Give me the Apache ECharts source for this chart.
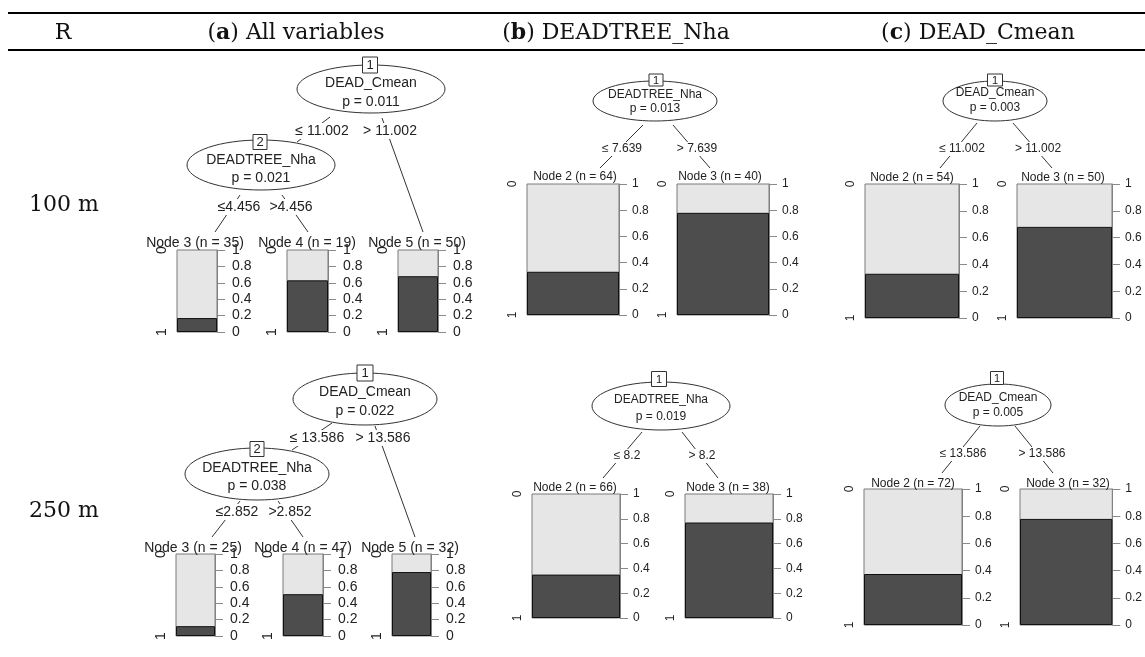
<!DOCTYPE html>
<html><head><meta charset="utf-8">
<script src="https://cdn.jsdelivr.net/npm/echarts@6/dist/echarts.min.js"></script>
<style>html,body{margin:0;padding:0;background:#fff}#c{width:1145px;height:657px}</style>
</head><body><div id="c"></div>
<script>
// ---------- DATA ----------
const headR = 'R';
const colLetters = ['a', 'b', 'c'];
const colTitles = ['All variables', 'DEADTREE_Nha', 'DEAD_Cmean'];
const rowLabels = ['100 m', '250 m'];
const classLevels = ['0', '1'];           // top (light) = 0, bottom (dark) = 1

// (a) All variables, 100 m
const a100Vars = ['DEAD_Cmean', 'DEADTREE_Nha'];
const a100P = ['0.011', '0.021'];
const a100Splits = ['≤ 11.002', '> 11.002', '≤4.456', '>4.456'];
const a100Term = [3, 4, 5];
const a100N = [35, 19, 50];
const a100Share1 = [0.17, 0.63, 0.68];

// (a) All variables, 250 m
const a250Vars = ['DEAD_Cmean', 'DEADTREE_Nha'];
const a250P = ['0.022', '0.038'];
const a250Splits = ['≤ 13.586', '> 13.586', '≤2.852', '>2.852'];
const a250Term = [3, 4, 5];
const a250N = [25, 47, 32];
const a250Share1 = [0.12, 0.51, 0.78];

// (b) DEADTREE_Nha, 100 m
const b100Vars = ['DEADTREE_Nha'];
const b100P = ['0.013'];
const b100Splits = ['≤ 7.639', '> 7.639'];
const b100Term = [2, 3];
const b100N = [64, 40];
const b100Share1 = [0.33, 0.78];

// (c) DEAD_Cmean, 100 m
const c100Vars = ['DEAD_Cmean'];
const c100P = ['0.003'];
const c100Splits = ['≤ 11.002', '> 11.002'];
const c100Term = [2, 3];
const c100N = [54, 50];
const c100Share1 = [0.33, 0.68];

// (b) DEADTREE_Nha, 250 m
const b250Vars = ['DEADTREE_Nha'];
const b250P = ['0.019'];
const b250Splits = ['≤ 8.2', '> 8.2'];
const b250Term = [2, 3];
const b250N = [66, 38];
const b250Share1 = [0.35, 0.77];

// (c) DEAD_Cmean, 250 m
const c250Vars = ['DEAD_Cmean'];
const c250P = ['0.005'];
const c250Splits = ['≤ 13.586', '> 13.586'];
const c250Term = [2, 3];
const c250N = [72, 32];
const c250Share1 = [0.375, 0.78];

// ---------- LAYOUT (tree-diagram geometry, in page units) ----------
const LAYOUT = {
  a100: { font: 14,
    inner: [{ c: [371, 89], r: [74, 24], box: [370, 65, 15, 16], ty: [83, 102] },
            { c: [261, 165], r: [74, 25], box: [260, 142, 14, 15], ty: [160, 178] }],
    edges: [{ p: [330, 117, 297, 142], l: [322, 131] }, { p: [382, 118, 423, 232], l: [390, 131] },
            { p: [240, 195, 215, 232], l: [239, 207] }, { p: [282, 195, 308, 232], l: [291, 207] }],
    term: [{ l: [195, 243], g: [177, 250, 40, 82] }, { l: [307, 243], g: [287, 250, 41, 82] }, { l: [417, 243], g: [398, 250, 40, 82] }] },
  a250: { font: 14,
    inner: [{ c: [365, 399], r: [72, 26], box: [365, 373, 16, 16], ty: [392, 411] },
            { c: [257, 474], r: [72, 26], box: [257, 449, 14, 15], ty: [468, 486] }],
    edges: [{ p: [332, 423, 292, 450], l: [317, 438] }, { p: [375, 426, 415, 537], l: [383, 438] },
            { p: [240, 501, 212, 537], l: [237, 512] }, { p: [278, 501, 303, 537], l: [290, 512] }],
    term: [{ l: [193, 548], g: [176, 554, 39, 82] }, { l: [303, 548], g: [283, 554, 40, 82] }, { l: [410, 548], g: [392, 554, 39, 82] }] },
  b100: { font: 12,
    inner: [{ c: [655, 101], r: [62, 20], box: [656, 80, 14, 12], ty: [95, 109] }],
    edges: [{ p: [643, 125, 600, 168], l: [622, 149] }, { p: [673, 125, 710, 168], l: [697, 149] }],
    term: [{ l: [575, 177], g: [527, 184, 92, 131] }, { l: [720, 177], g: [677, 184, 92, 131] }] },
  c100: { font: 12,
    inner: [{ c: [995, 101], r: [52, 20], box: [995, 80, 15, 12], ty: [93, 108] }],
    edges: [{ p: [977, 123, 940, 168], l: [962, 149] }, { p: [1013, 123, 1052, 168], l: [1038, 149] }],
    term: [{ l: [912, 178], g: [865, 184, 94, 134] }, { l: [1063, 178], g: [1017, 184, 95, 134] }] },
  b250: { font: 12,
    inner: [{ c: [661, 406], r: [69, 24], box: [659, 379, 15, 15], ty: [400, 417] }],
    edges: [{ p: [642, 432, 603, 478], l: [627, 456] }, { p: [682, 432, 718, 478], l: [702, 456] }],
    term: [{ l: [575, 488], g: [532, 494, 88, 124] }, { l: [728, 488], g: [685, 494, 88, 124] }] },
  c250: { font: 12,
    inner: [{ c: [998, 405], r: [53, 21], box: [997, 378, 13, 13], ty: [398, 413] }],
    edges: [{ p: [980, 426, 942, 473], l: [963, 454] }, { p: [1015, 426, 1053, 473], l: [1042, 454] }],
    term: [{ l: [913, 484], g: [864, 489, 98, 136] }, { l: [1068, 484], g: [1020, 489, 96, 136] }] }
};

const panels = [
  { key: 'a100', vars: a100Vars, p: a100P, splits: a100Splits, term: a100Term, n: a100N, share: a100Share1 },
  { key: 'b100', vars: b100Vars, p: b100P, splits: b100Splits, term: b100Term, n: b100N, share: b100Share1 },
  { key: 'c100', vars: c100Vars, p: c100P, splits: c100Splits, term: c100Term, n: c100N, share: c100Share1 },
  { key: 'a250', vars: a250Vars, p: a250P, splits: a250Splits, term: a250Term, n: a250N, share: a250Share1 },
  { key: 'b250', vars: b250Vars, p: b250P, splits: b250Splits, term: b250Term, n: b250N, share: b250Share1 },
  { key: 'c250', vars: c250Vars, p: c250P, splits: c250Splits, term: c250Term, n: c250N, share: c250Share1 }
];

const SANS = '"Liberation Sans", Arial, sans-serif';
const SERIF = '"DejaVu Serif", "Liberation Serif", serif';
const W = 1145, H = 657;

const grids = [{ left: 0, top: 0, width: W, height: H }];
const xAxes = [{ type: 'value', gridIndex: 0, min: 0, max: W, show: false }];
const yAxes = [{ type: 'value', gridIndex: 0, min: 0, max: H, inverse: true, show: false }];
const series = [];
const edgeItems = [], edgeLabItems = [], innerItems = [], termLabItems = [];

panels.forEach(pn => {
  const L = LAYOUT[pn.key], fs = L.font;
  L.edges.forEach((e, i) => {
    edgeItems.push(e.p);
    edgeLabItems.push({ x: e.l[0], y: e.l[1], text: pn.splits[i], fs });
  });
  L.inner.forEach((nd, i) => {
    innerItems.push(Object.assign({}, nd, { id: i + 1, v: pn.vars[i], p: 'p = ' + pn.p[i], fs }));
  });
  L.term.forEach((t, i) => {
    termLabItems.push({ x: t.l[0], y: t.l[1], text: 'Node ' + pn.term[i] + ' (n = ' + pn.n[i] + ')', fs });
    const gi = grids.length;
    grids.push({ left: t.g[0], top: t.g[1], width: t.g[2], height: t.g[3] });
    xAxes.push({ type: 'category', gridIndex: gi, data: [''], show: false });
    const yr = yAxes.length;
    yAxes.push({ type: 'value', gridIndex: gi, position: 'right', min: 0, max: 1, interval: 0.2,
      axisLine: { show: true, lineStyle: { color: '#8a8a8a', width: 1 } },
      axisTick: { show: true, length: 8, lineStyle: { color: '#8a8a8a' } },
      splitLine: { show: false },
      axisLabel: { margin: fs === 14 ? 15 : 13, fontSize: fs, color: '#222', fontFamily: SANS,
        formatter: v => String(Math.round(v * 10) / 10) } });
    yAxes.push({ type: 'value', gridIndex: gi, position: 'left', min: 0, max: 1, interval: 1,
      axisLine: { show: false }, axisTick: { show: false }, splitLine: { show: false },
      axisLabel: { rotate: 90, margin: 8, fontSize: fs, color: '#222', fontFamily: SANS,
        formatter: v => (v >= 1 ? classLevels[0] : classLevels[1]) } });
    series.push({ type: 'bar', xAxisIndex: gi, yAxisIndex: yr, data: [pn.share[i]], barWidth: '100%',
      showBackground: true, silent: true, animation: false,
      backgroundStyle: { color: '#e6e6e6', borderColor: '#7a7a7a', borderWidth: 1 },
      itemStyle: { color: '#4d4d4d', borderColor: '#111', borderWidth: 1 } });
  });
});

// tree edges
series.push({ type: 'custom', xAxisIndex: 0, yAxisIndex: 0, clip: false, silent: true, z: 3,
  data: edgeItems, encode: { x: [0, 2], y: [1, 3] },
  renderItem: (params, api) => {
    const e = edgeItems[params.dataIndex];
    const a = api.coord([e[0], e[1]]), b = api.coord([e[2], e[3]]);
    return { type: 'line', shape: { x1: a[0], y1: a[1], x2: b[0], y2: b[1] }, style: { stroke: '#333', lineWidth: 1 } };
  } });
// edge labels
series.push({ type: 'custom', xAxisIndex: 0, yAxisIndex: 0, clip: false, silent: true, z: 4,
  data: edgeLabItems.map(d => [d.x, d.y]), encode: { x: 0, y: 1 },
  renderItem: (params, api) => {
    const d = edgeLabItems[params.dataIndex];
    const c = api.coord([d.x, d.y]);
    return { type: 'text', x: c[0], y: c[1], style: { text: d.text, fill: '#222', font: d.fs + 'px ' + SANS,
      align: 'center', verticalAlign: 'middle', backgroundColor: '#fff', padding: [1, 2] } };
  } });
// inner nodes
series.push({ type: 'custom', xAxisIndex: 0, yAxisIndex: 0, clip: false, silent: true, z: 5,
  data: innerItems.map(d => d.c), encode: { x: 0, y: 1 },
  renderItem: (params, api) => {
    const d = innerItems[params.dataIndex];
    const c = api.coord(d.c), s = api.size(d.r);
    const b = api.coord([d.box[0], d.box[1]]), bs = api.size([d.box[2], d.box[3]]);
    const t1 = api.coord([d.c[0], d.ty[0]]), t2 = api.coord([d.c[0], d.ty[1]]);
    const f = d.fs + 'px ' + SANS;
    return { type: 'group', children: [
      { type: 'ellipse', shape: { cx: c[0], cy: c[1], rx: s[0], ry: s[1] }, style: { fill: '#fff', stroke: '#333', lineWidth: 1 } },
      { type: 'text', x: t1[0], y: t1[1], style: { text: d.v, fill: '#222', font: f, align: 'center', verticalAlign: 'middle' } },
      { type: 'text', x: t2[0], y: t2[1], style: { text: d.p, fill: '#222', font: f, align: 'center', verticalAlign: 'middle' } },
      { type: 'rect', shape: { x: b[0] - bs[0] / 2, y: b[1] - bs[1] / 2, width: bs[0], height: bs[1] }, style: { fill: '#fff', stroke: '#333', lineWidth: 1 } },
      { type: 'text', x: b[0], y: b[1] + 0.5, style: { text: String(d.id), fill: '#222', font: (d.fs - 1) + 'px ' + SANS, align: 'center', verticalAlign: 'middle' } }
    ] };
  } });
// terminal node labels
series.push({ type: 'custom', xAxisIndex: 0, yAxisIndex: 0, clip: false, silent: true, z: 6,
  data: termLabItems.map(d => [d.x, d.y]), encode: { x: 0, y: 1 },
  renderItem: (params, api) => {
    const d = termLabItems[params.dataIndex];
    const c = api.coord([d.x, d.y]);
    return { type: 'text', x: c[0], y: c[1], style: { text: d.text, fill: '#222', font: d.fs + 'px ' + SANS,
      align: 'center', verticalAlign: 'middle' } };
  } });

// header / row labels
const headFont = { fontSize: 22, fontFamily: SERIF, fill: '#111' };
const colCenters = [296, 616, 978];
const graphic = [
  { type: 'line', shape: { x1: 8, y1: 13, x2: W, y2: 13 }, style: { stroke: '#000', lineWidth: 2 } },
  { type: 'line', shape: { x1: 8, y1: 50, x2: W, y2: 50 }, style: { stroke: '#000', lineWidth: 2 } },
  { type: 'text', x: 63, y: 33, style: Object.assign({ text: headR, align: 'center', verticalAlign: 'middle' }, headFont) }
];
colLetters.forEach((ltr, i) => {
  graphic.push({ type: 'text', x: colCenters[i], y: 33, style: Object.assign({
    text: '({b|' + ltr + '}) ' + colTitles[i], align: 'center', verticalAlign: 'middle',
    rich: { b: { fontWeight: 'bold', fontSize: 22, fontFamily: SERIF, fill: '#111' } } }, headFont) });
});
const rowCenters = [205, 511];
rowLabels.forEach((r, i) => {
  graphic.push({ type: 'text', x: 64, y: rowCenters[i], style: Object.assign({ text: r, align: 'center', verticalAlign: 'middle' }, headFont) });
});

const chart = echarts.init(document.getElementById('c'), null, { renderer: 'canvas' });
chart.setOption({ animation: false, backgroundColor: '#fff', grid: grids, xAxis: xAxes, yAxis: yAxes, series, graphic });
</script>
</body></html>
